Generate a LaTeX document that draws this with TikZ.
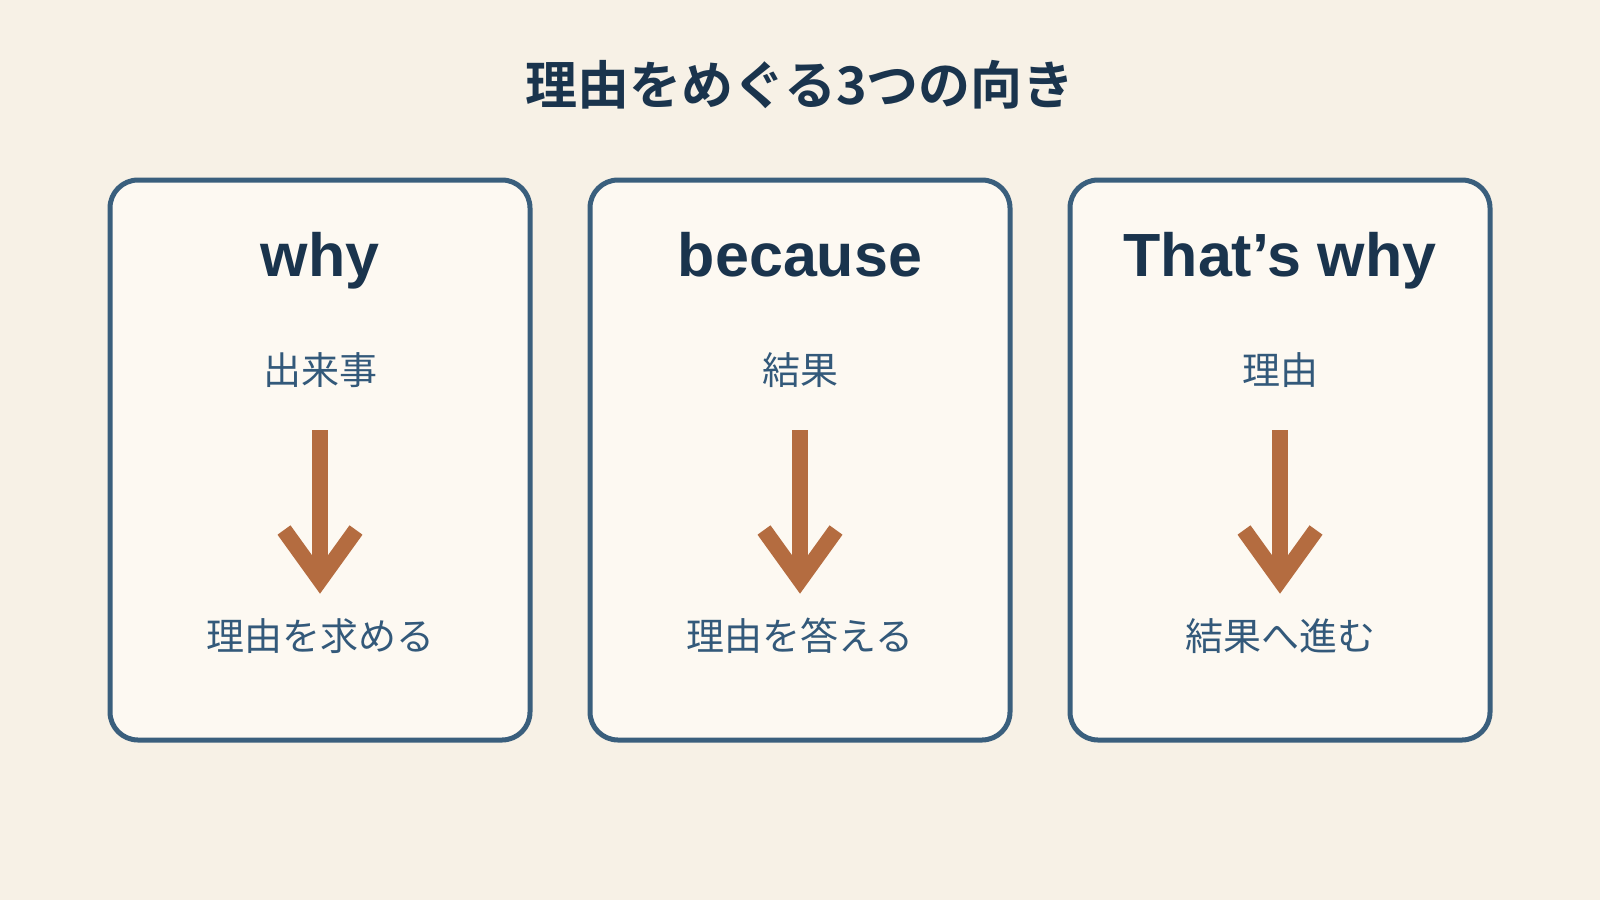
\documentclass[tikz,border=0pt]{standalone}
\usepackage{fontspec}
\newfontfamily\cjk{Noto Sans CJK JP}
\newfontfamily\cjkbold{Noto Sans CJK JP Bold}
\newfontfamily\headfont{Liberation Sans}
\definecolor{bgc}{HTML}{F7F1E6}
\definecolor{boxfill}{HTML}{FDF9F2}
\definecolor{boxline}{HTML}{3A5F7D}
\definecolor{navy}{HTML}{1A344D}
\definecolor{subc}{HTML}{33597A}
\definecolor{arrowc}{HTML}{B46C40}
\begin{document}
\begin{tikzpicture}[x=0.5pt,y=-0.5pt,
  card/.style={draw=boxline,line width=2.5pt,fill=boxfill,rounded corners=14pt},
  headtxt/.style={font=\headfont\bfseries\fontsize{30.5}{34}\selectfont,text=navy,anchor=base},
  subtxt/.style={font=\cjk\fontsize{19}{22}\selectfont,text=subc},
  shaft/.style={draw=arrowc,line width=8pt},
  chevron/.style={draw=arrowc,line width=8pt,line join=miter,miter limit=10}]
\fill[bgc] (0,0) rectangle (1600,900);
\useasboundingbox (0,0) rectangle (1600,900);
\node[font=\cjkbold\fontsize{26}{30}\selectfont,text=navy] (title) at (800,85) {理由をめぐる3つの向き};
\foreach \cx/\name/\head/\top/\bot in {320/a/why/出来事/理由を求める,800/b/because/結果/理由を答える,1280/c/That’s why/理由/結果へ進む}{
  \draw[card] (\cx-210,180) rectangle (\cx+210,740);
  \node[headtxt] (h\name) at (\cx,276) {\head};
  \node[subtxt] (t\name) at (\cx,370) {\top};
  \node[subtxt] (b\name) at (\cx,636) {\bot};
  \coordinate (s\name) at (\cx,430);
  \coordinate (e\name) at (\cx,574);
  \draw[shaft] (s\name) -- (e\name);
  \draw[chevron] (\cx-36,530) -- (\cx,580) -- (\cx+36,530);
}
\end{tikzpicture}
\end{document}
